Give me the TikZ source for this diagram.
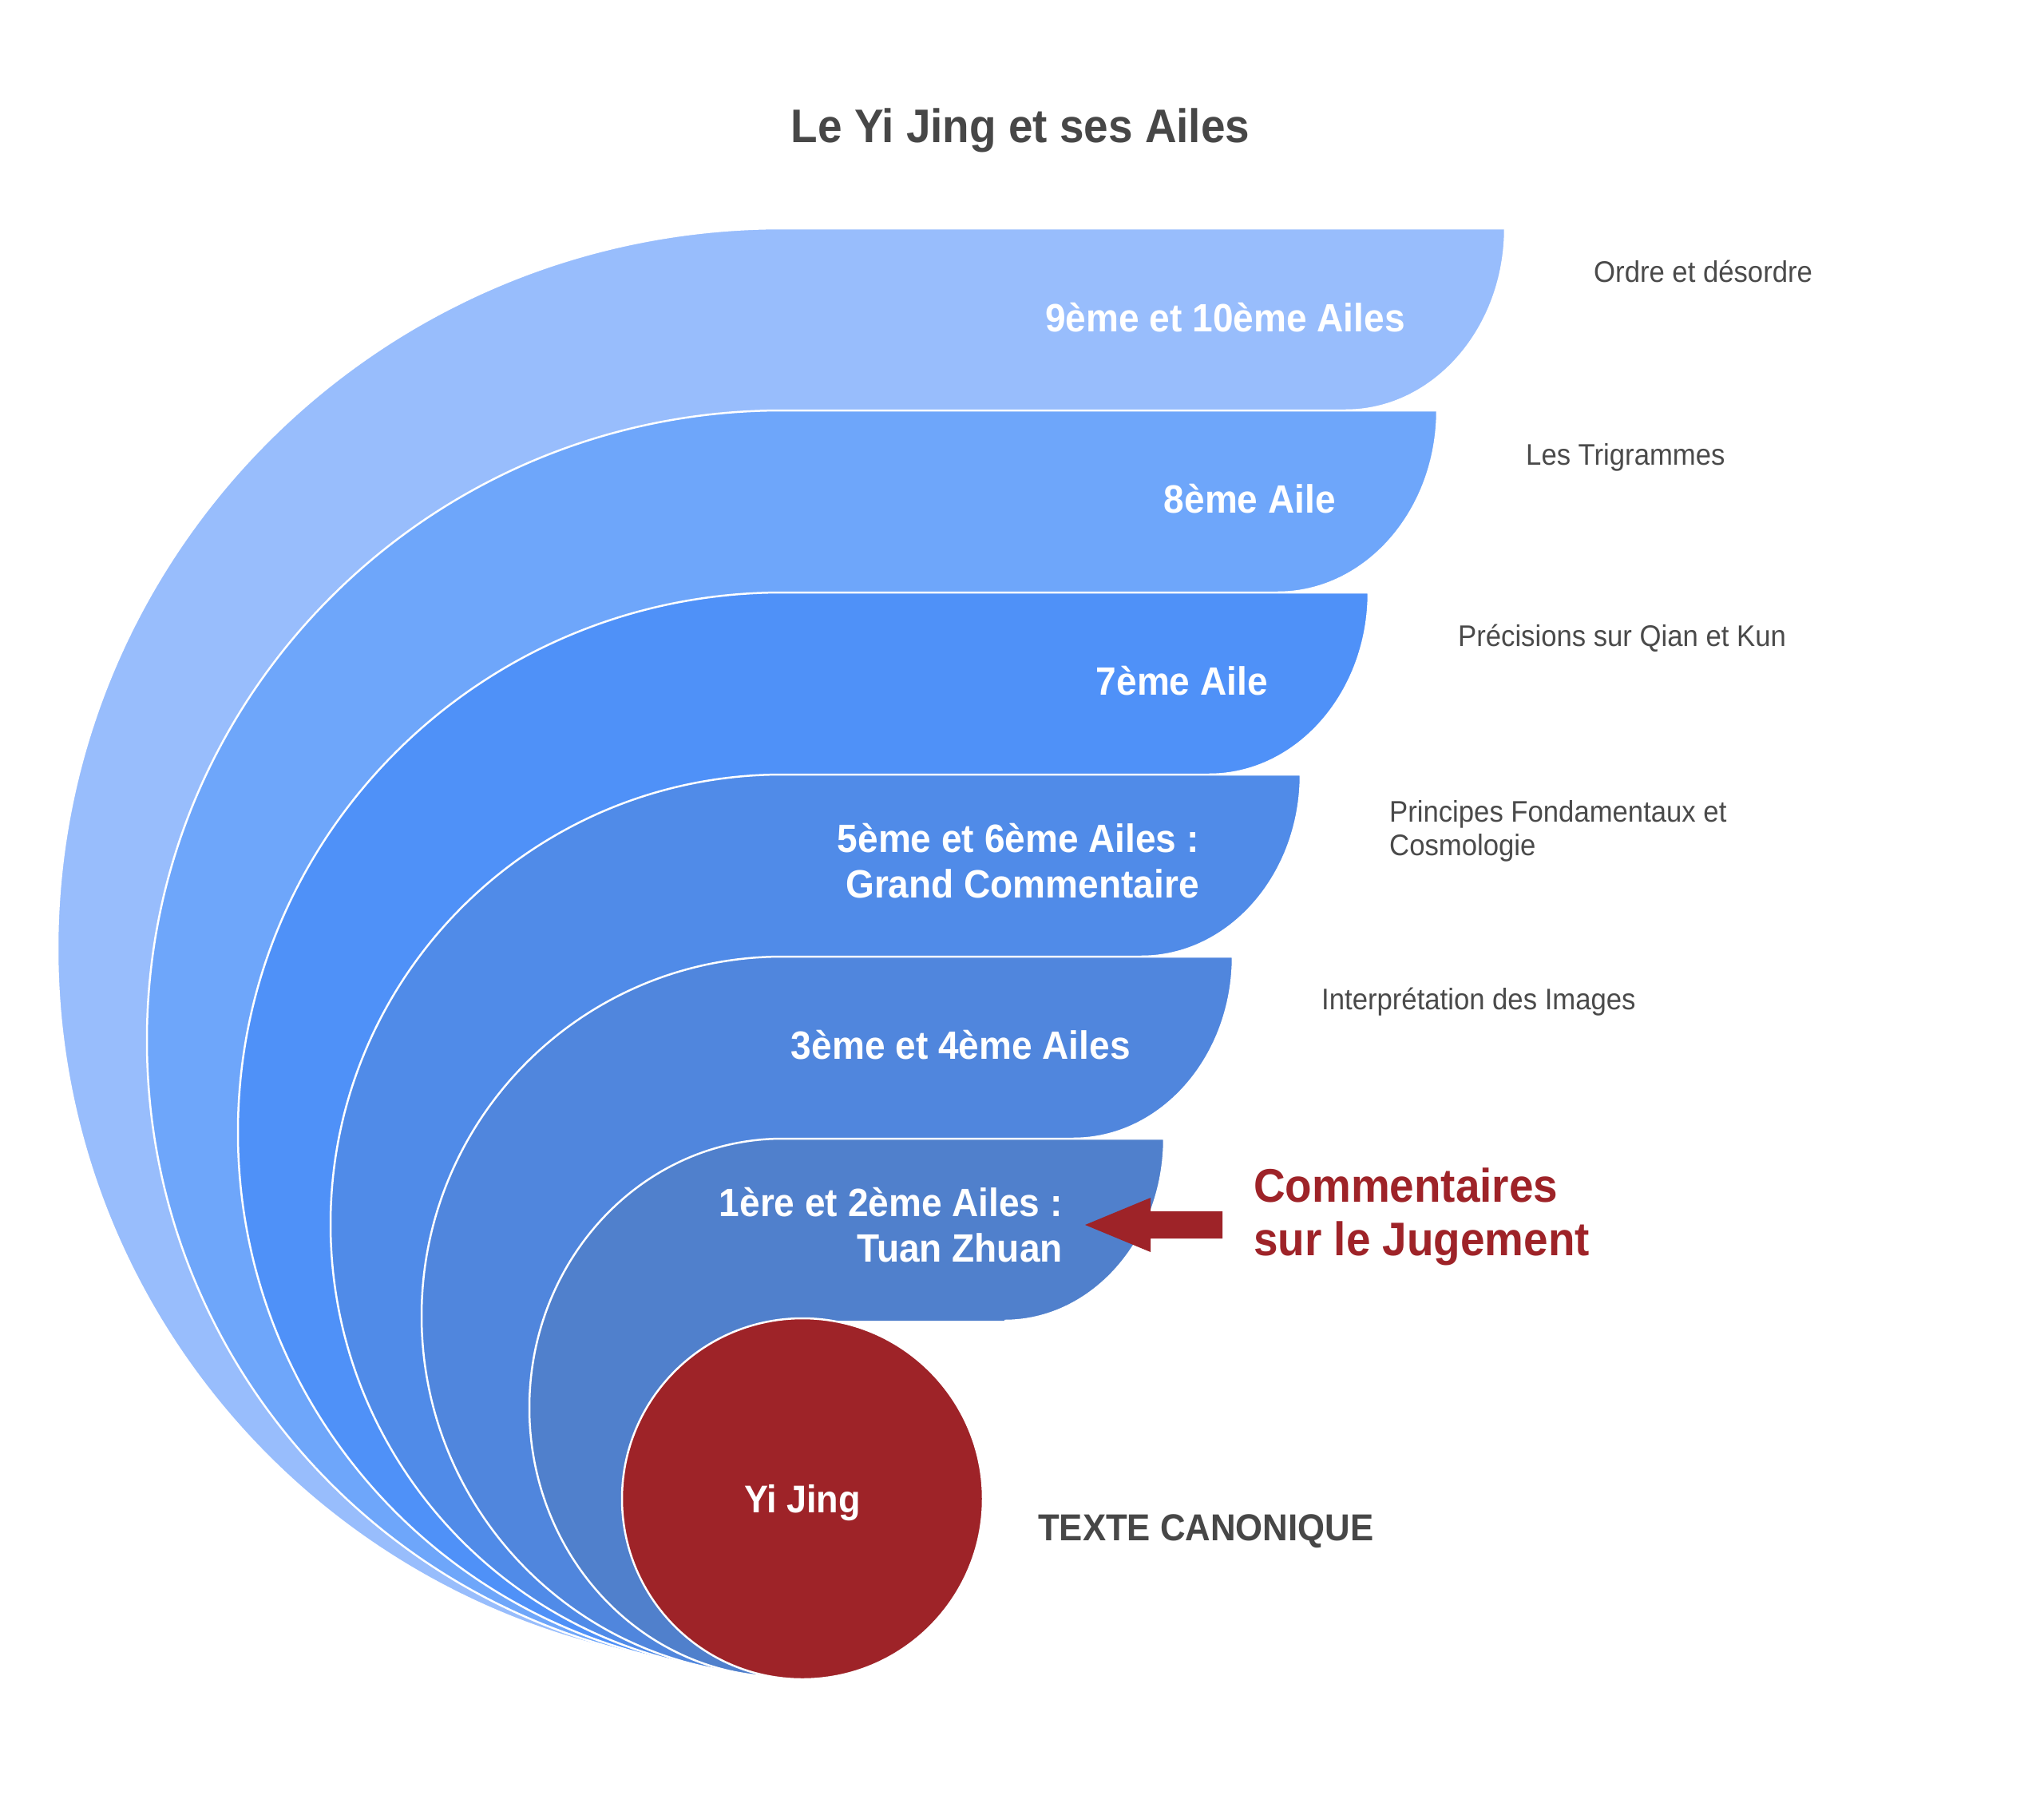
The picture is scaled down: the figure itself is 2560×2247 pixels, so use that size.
\documentclass[tikz,border=0pt]{standalone}
\usepackage{fontspec}
\setmainfont{Liberation Sans}[FakeStretch=0.93]
\definecolor{bandA}{HTML}{98BDFC}
\definecolor{bandB}{HTML}{6EA6FA}
\definecolor{bandC}{HTML}{4F91F8}
\definecolor{bandD}{HTML}{508BE8}
\definecolor{bandE}{HTML}{5086DD}
\definecolor{bandF}{HTML}{5080CC}
\definecolor{deepred}{HTML}{9E2328}
\definecolor{titlegray}{HTML}{474747}
\definecolor{labelgray}{HTML}{4A4A4A}
% #1 colour, #2 top, #3 bottom of arc, #4 x radius, #5 y radius, #6 right end, #7 next top
\newcommand\wingband[7]{%
  \fill[#1] (980,-#3) arc[start angle=270,end angle=90,x radius=#4,y radius=#5]
    -- (#6,-#2) arc[start angle=0,end angle=-90,x radius=200,y radius=228]
    -- (980,-#7) -- cycle;
  \draw[white,line width=2.5] (980,-#3) arc[start angle=270,end angle=90,x radius=#4,y radius=#5]
    -- (#6,-#2) arc[start angle=0,end angle=-90,x radius=200,y radius=228];
}
\begin{document}
\begin{tikzpicture}[x=1pt,y=1pt,
  bandlabel/.style={inner sep=0,text=white,anchor=base east,font=\bfseries\fontsize{49.5}{58}\selectfont},
  sidelabel/.style={inner sep=0,text=labelgray,anchor=base west,font=\fontsize{37.3}{44}\selectfont},
  redlabel/.style={inner sep=0,text=deepred,anchor=base west,font=\bfseries\fontsize{59}{68}\selectfont}]
\useasboundingbox (0,0) rectangle (2560,-2247);
\fill[white] (0,0) rectangle (2560,-2247);

\node[inner sep=0,anchor=base,text=titlegray,font=\bfseries\fontsize{59}{68}\selectfont] (title) at (1278,-178) {Le Yi Jing et ses Ailes};

\wingband{bandA}{286}{2090}{908}{902}{1885}{514}
\wingband{bandB}{514}{2092}{796}{789}{1800}{742}
\wingband{bandC}{742}{2094}{682}{676}{1714}{970}
\wingband{bandD}{970}{2096}{566}{563}{1629}{1198}
\wingband{bandE}{1198}{2098}{452}{450}{1544}{1426}
\wingband{bandF}{1426}{2100}{317}{337}{1458}{1654}

\node[circle,fill=deepred,draw=white,line width=2.5,minimum size=452,inner sep=0] (yijing) at (1005,-1877) {};
\node[inner sep=0,anchor=base,text=white,font=\bfseries\fontsize{48.4}{56}\selectfont] (yijingtext) at (1005,-1894) {Yi Jing};

\node[bandlabel] (l1) at (1760,-415) {9ème et 10ème Ailes};
\node[bandlabel] (l2) at (1673,-642) {8ème Aile};
\node[bandlabel] (l3) at (1588,-870) {7ème Aile};
\node[bandlabel] (l4a) at (1502,-1067) {5ème et 6ème Ailes :};
\node[bandlabel] (l4b) at (1502,-1124) {Grand Commentaire};
\node[bandlabel] (l5) at (1416,-1326) {3ème et 4ème Ailes};
\node[bandlabel] (l6a) at (1331,-1523) {1ère et 2ème Ailes :};
\node[bandlabel] (l6b) at (1331,-1580) {Tuan Zhuan};

\node[sidelabel] (r1) at (1996,-353) {Ordre et désordre};
\node[sidelabel] (r2) at (1911,-582) {Les Trigrammes};
\node[sidelabel] (r3) at (1826,-809) {Précisions sur Qian et Kun};
\node[sidelabel] (r4a) at (1740,-1029) {Principes Fondamentaux et};
\node[sidelabel] (r4b) at (1740,-1071) {Cosmologie};
\node[sidelabel] (r5) at (1655,-1264) {Interprétation des Images};

\node[redlabel] (c1) at (1570,-1505) {Commentaires};
\node[redlabel] (c2) at (1570,-1572) {sur le Jugement};

\coordinate (arrowtip) at (1359,-1534);
\fill[deepred] (arrowtip) -- (1441,-1500) -- (1441,-1517) -- (1531,-1517)
  -- (1531,-1551) -- (1441,-1551) -- (1441,-1568) -- cycle;

\node[inner sep=0,anchor=base west,text=titlegray,font=\bfseries\fontsize{47}{54}\selectfont] (canon) at (1300,-1929) {TEXTE CANONIQUE};
\end{tikzpicture}
\end{document}
